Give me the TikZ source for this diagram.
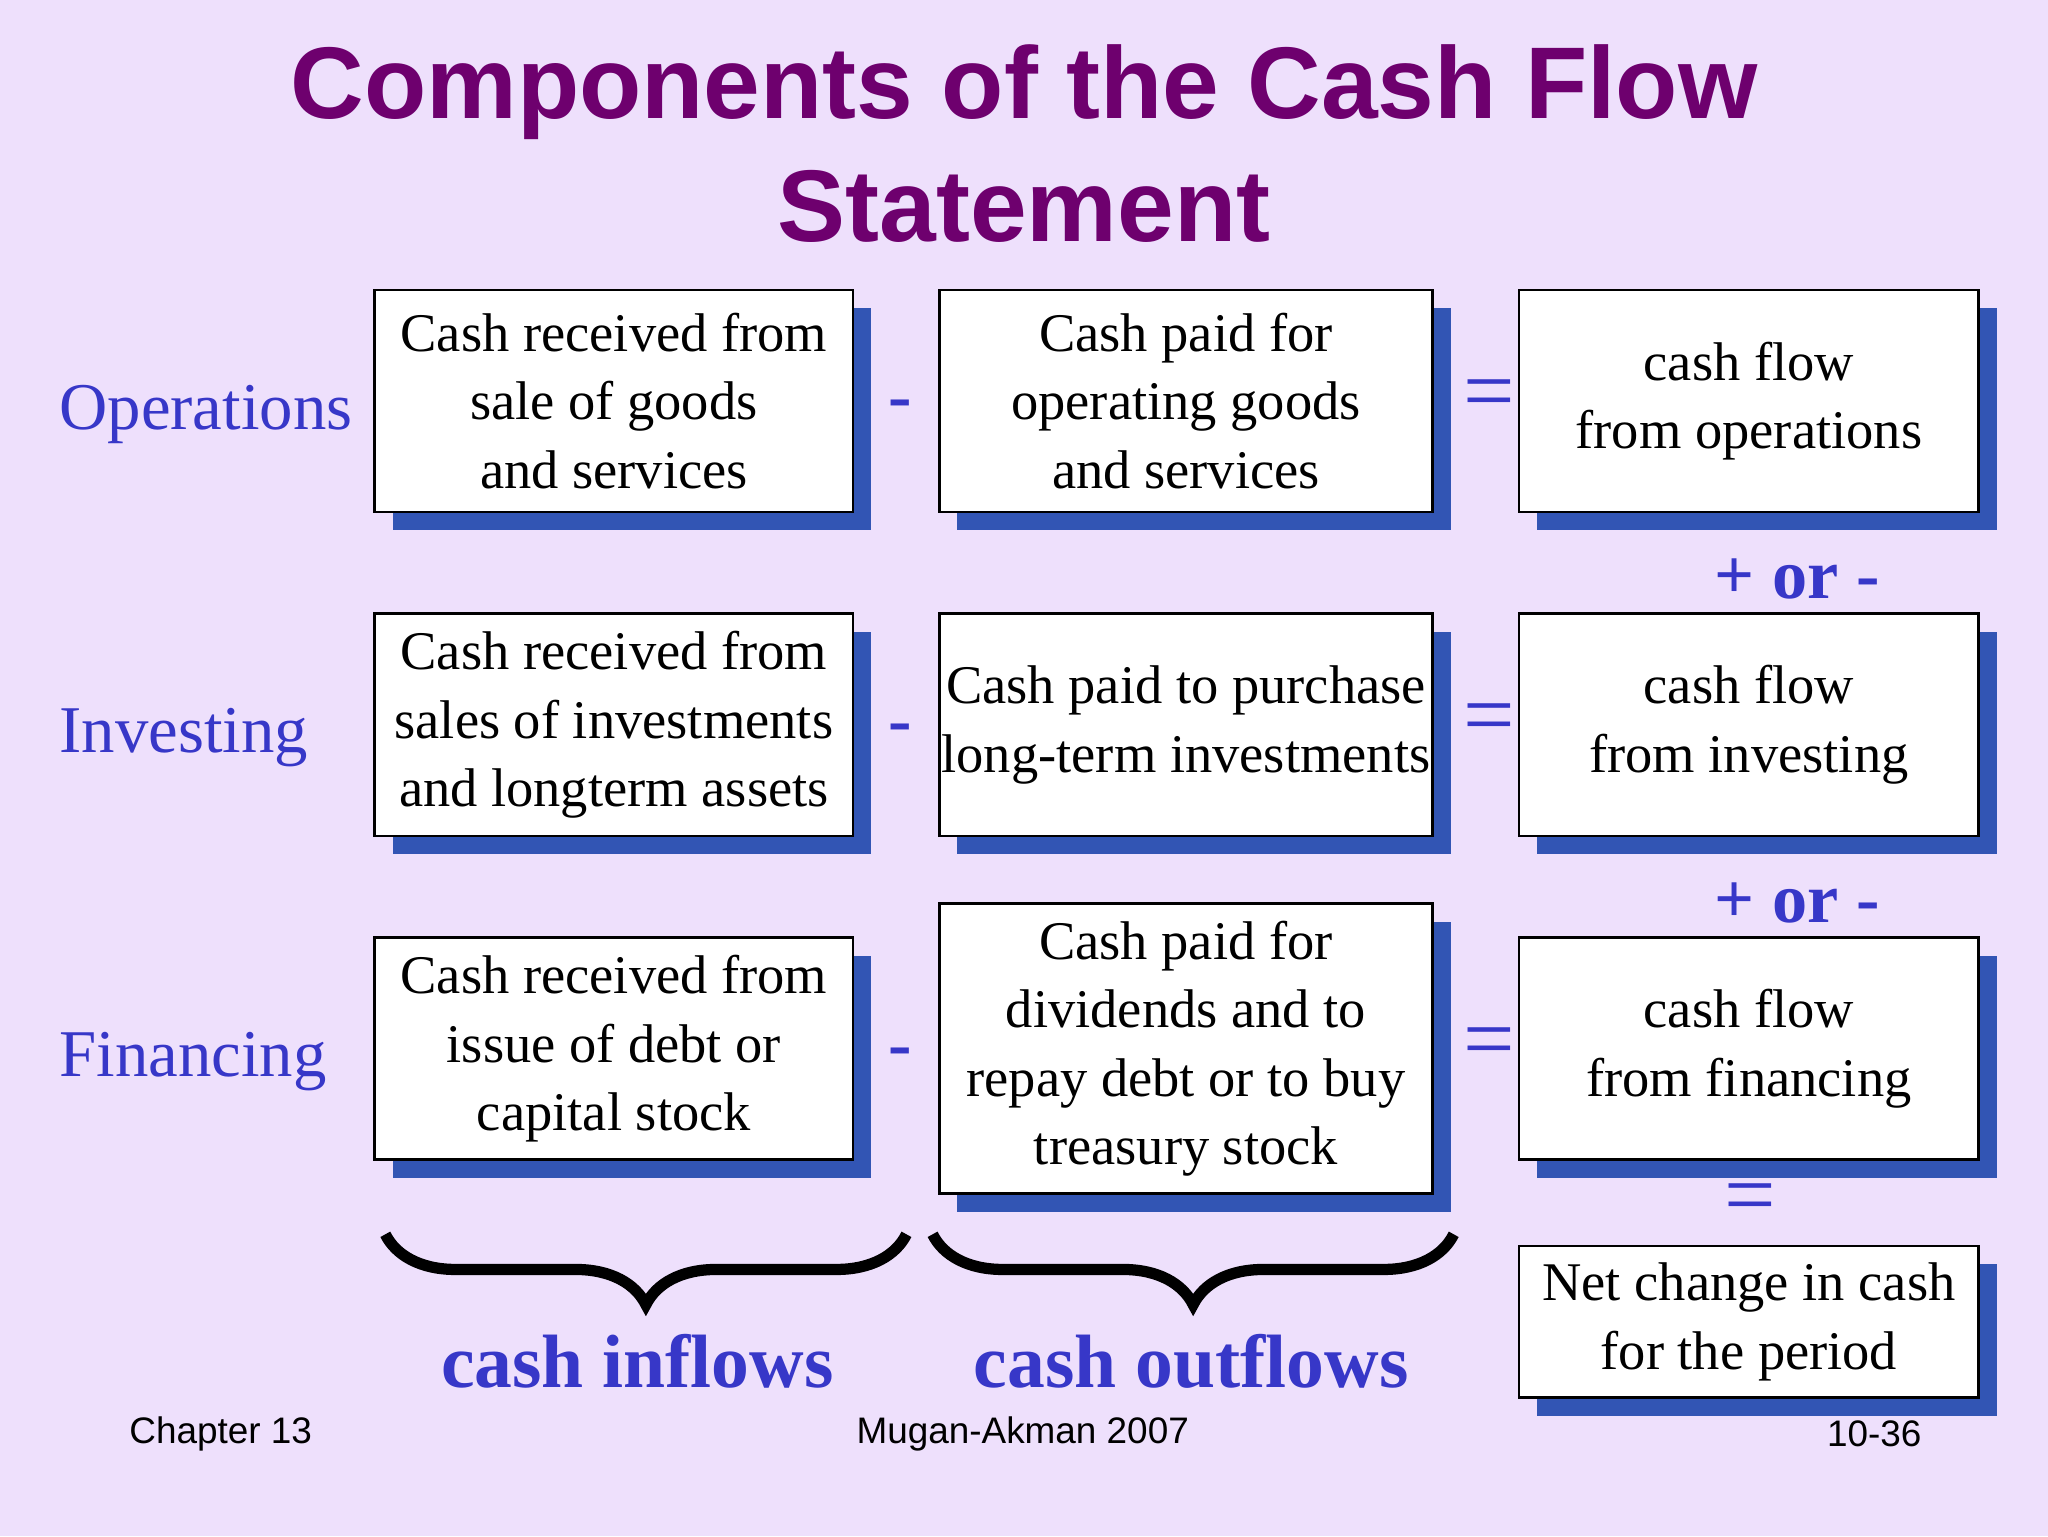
\documentclass[tikz,border=0pt]{standalone}
\usepackage{fontspec}
\setmainfont{Liberation Serif}
\newfontfamily\sansf{Liberation Sans}
\usetikzlibrary{positioning,shadows,decorations.pathreplacing}
\definecolor{bgcol}{RGB}{238,224,252}
\definecolor{titlecol}{RGB}{110,0,110}
\definecolor{labcol}{RGB}{55,55,200}
\definecolor{shadcol}{RGB}{50,85,180}
\tikzset{
  box/.style={draw=black,line width=0.8pt,fill=white,align=center,
    inner sep=0pt,font=\fontsize{15.5}{19.5}\selectfont,
    drop shadow={shadow xshift=5.2pt,shadow yshift=-5.2pt,fill=shadcol,opacity=1}},
  rowlab/.style={anchor=west,text=labcol,font=\fontsize{19}{22}\selectfont},
  sign/.style={text=labcol,font=\fontsize{20}{22}\selectfont\bfseries},
  eq/.style={text=labcol,font=\fontsize{26}{28}\selectfont},
  foot/.style={font=\sansf\fontsize{10.5}{12}\selectfont},
  brc/.style={decorate,decoration={brace,amplitude=20pt,mirror},line width=3.2pt}
}
\begin{document}
\begin{tikzpicture}[x=0.1306mm,y=-0.1306mm]
\useasboundingbox[fill=bgcol] (0,0) rectangle (1568,1176);
% title
\node[text=titlecol,align=center,font=\sansf\bfseries\fontsize{29}{35}\selectfont] (title) at (784,110)
  {Components of the Cash Flow\\Statement};

% row labels
\node[rowlab] (ops) at (36,317) {Operations};
\node[rowlab] (inv) at (36,565) {Investing};
\node[rowlab] (fin) at (36,813) {Financing};

% inflows
\node[box,minimum width=366*0.1306mm,minimum height=170*0.1306mm] (in1) at (470,307) {Cash received from\\sale of goods\\and services};
\node[box,minimum width=366*0.1306mm,minimum height=170*0.1306mm] (in2) at (470,555) {Cash received from\\sales of investments\\and longterm assets};
\node[box,minimum width=366*0.1306mm,minimum height=170*0.1306mm] (in3) at (470,803) {Cash received from\\issue of debt or\\capital stock};

% outflows
\node[box,minimum width=378*0.1306mm,minimum height=170*0.1306mm] (out1) at (908,307) {Cash paid for\\operating goods\\and services};
\node[box,minimum width=378*0.1306mm,minimum height=170*0.1306mm] (out2) at (908,555) {Cash paid to purchase\\long-term investments};
\node[box,minimum width=378*0.1306mm,minimum height=222*0.1306mm] (out3) at (908,803) {Cash paid for\\dividends and to\\repay debt or to buy\\treasury stock};

% results
\node[box,minimum width=352*0.1306mm,minimum height=170*0.1306mm] (cf1) at (1339,307) {cash flow\\from operations};
\node[box,minimum width=352*0.1306mm,minimum height=170*0.1306mm] (cf2) at (1339,555) {cash flow\\from investing};
\node[box,minimum width=352*0.1306mm,minimum height=170*0.1306mm] (cf3) at (1339,803) {cash flow\\from financing};
\node[box,minimum width=352*0.1306mm,minimum height=116*0.1306mm] (net) at (1339,1012) {Net change in cash\\for the period};

% signs
\node[sign] (m1) at (689,314) {-};
\node[sign] (m2) at (689,562) {-};
\node[sign] (m3) at (689,810) {-};
\node[eq] (e1) at (1140,307) {=};
\node[eq] (e2) at (1140,555) {=};
\node[eq] (e3) at (1140,803) {=};
\node[sign] (p1) at (1376,443) {+ or -};
\node[sign] (p2) at (1376,691) {+ or -};
\node[eq] (e4) at (1340,922) {=};

% braces
\coordinate (b1l) at (295,945); \coordinate (b1r) at (694,945);
\coordinate (b2l) at (714,945); \coordinate (b2r) at (1113,945);
\draw[brc] (b1l) -- (b1r);
\draw[brc] (b2l) -- (b2r);
\node[text=labcol,font=\fontsize{21.5}{24}\selectfont\bfseries] (cin) at (488,1042) {cash inflows};
\node[text=labcol,font=\fontsize{21.5}{24}\selectfont\bfseries] (cout) at (912,1042) {cash outflows};

% footer
\node[foot] (f1) at (169,1098) {Chapter 13};
\node[foot] (f2) at (783,1098) {Mugan-Akman 2007};
\node[foot] (f3) at (1435,1098) {10-36};
\end{tikzpicture}
\end{document}
